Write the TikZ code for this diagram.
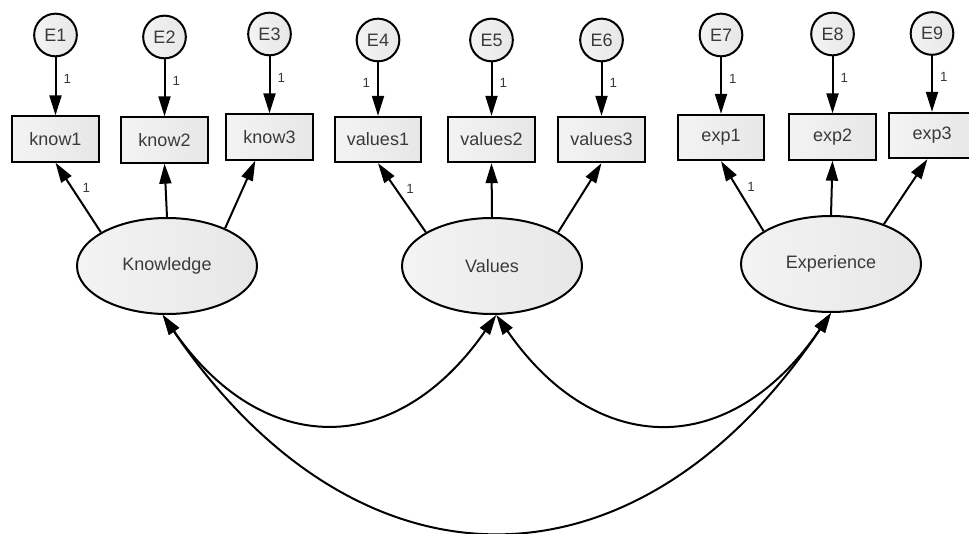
\documentclass[tikz,border=0pt]{standalone}
\usepackage{fontspec}
\setmainfont{Liberation Sans}
\usetikzlibrary{arrows.meta,shapes.geometric}

\definecolor{txtgray}{HTML}{3A3A3A}
\tikzset{every picture/.style={line width=1.5pt}}
\tikzset{
  latent/.style={draw, ellipse, inner sep=0pt, minimum width=135pt, minimum height=72pt,
    left color=gray!9, right color=gray!19, text=txtgray, font=\fontsize{13.5}{16}\selectfont},
  observed/.style={draw, rectangle, inner sep=0pt, minimum width=65pt, minimum height=34pt,
    left color=gray!9, right color=gray!19, text=txtgray, font=\fontsize{13.5}{16}\selectfont},
  errvar/.style={draw, circle, inner sep=0pt, minimum size=32pt,
    left color=gray!9, right color=gray!19, text=txtgray, font=\fontsize{13.5}{16}\selectfont},
  weight/.style={inner sep=0.75pt, text=txtgray, font=\fontsize{10}{12}\selectfont},
  path arrow/.style={-{Triangle[length=15pt,width=9pt]}},
  covar/.style={{Triangle[length=15pt,width=9pt]}-{Triangle[length=15pt,width=9pt]}}
}

\begin{document}
\begin{tikzpicture}[x=0.75pt,y=0.75pt,yscale=-1,xscale=1]
\useasboundingbox (0,0) rectangle (969,534);
%Latent Nodes
\node [latent] (know) at (167,266) {Knowledge};
\node [latent] (vals) at (492,266) {Values};
\node [latent] (expr) at (831,264) {Experience};
%Observed Nodes
\node [observed] (k1) at (55.5,139) {know1};
\node [observed] (k2) at (164.5,140) {know2};
\node [observed] (k3) at (269.5,137) {know3};
\node [observed] (v1) at (378,139.5) {values1};
\node [observed] (v2) at (491.5,139.5) {values2};
\node [observed] (v3) at (601.5,139.5) {values3};
\node [observed] (x1) at (721,137.5) {exp1};
\node [observed] (x2) at (832.5,137) {exp2};
\node [observed] (x3) at (932,135.5) {exp3};
%Error Nodes
\node [errvar] (e1) at (55.5,35) {E1};
\node [errvar] (e2) at (164.5,37) {E2};
\node [errvar] (e3) at (269.5,34) {E3};
\node [errvar] (e4) at (378,40) {E4};
\node [errvar] (e5) at (491.5,40) {E5};
\node [errvar] (e6) at (601.5,40) {E6};
\node [errvar] (e7) at (721,35) {E7};
\node [errvar] (e8) at (832.5,34) {E8};
\node [errvar] (e9) at (932,33.5) {E9};
%Straight Lines: errors
\draw [path arrow] (e1) -- (k1) node [pos=0.38, right=4.5pt, weight] {1};
\draw [path arrow] (e2) -- (k2) node [pos=0.38, right=4.5pt, weight] {1};
\draw [path arrow] (e3) -- (k3) node [pos=0.38, right=4.5pt, weight] {1};
\draw [path arrow] (e4) -- (v1) node [pos=0.38, left=4.5pt, weight] {1};
\draw [path arrow] (e5) -- (v2) node [pos=0.38, right=4.5pt, weight] {1};
\draw [path arrow] (e6) -- (v3) node [pos=0.38, right=4.5pt, weight] {1};
\draw [path arrow] (e7) -- (x1) node [pos=0.38, right=4.5pt, weight] {1};
\draw [path arrow] (e8) -- (x2) node [pos=0.38, right=4.5pt, weight] {1};
\draw [path arrow] (e9) -- (x3) node [pos=0.38, right=4.5pt, weight] {1};
%Straight Lines: loadings
\draw [path arrow] (know.153) -- (k1.south) node [pos=0.64, right=6.5pt, weight] {1};
\draw [path arrow] (know.north) -- (k2.south);
\draw [path arrow] (know.33) -- (k3.-121);
\draw [path arrow] (vals.153) -- (v1.south) node [pos=0.63, right=6.5pt, weight] {1};
\draw [path arrow] (vals.north) -- (v2.south);
\draw [path arrow] (vals.27) -- (v3.south);
\draw [path arrow] (expr.154) -- (x1.south) node [pos=0.63, right=6.5pt, weight] {1};
\draw [path arrow] (expr.north) -- (x2.south);
\draw [path arrow] (expr.37) -- (x3.-101);
%Curve Lines: covariances
\draw [covar] (know.265) .. controls +(100,144) and +(-100,144) .. (vals.275);
\draw [covar] (vals.275) .. controls +(100,144) and +(-100,147) .. (expr.south);
\draw [covar] (know.265) .. controls +(195,287) and +(-195,290) .. (expr.south);
\end{tikzpicture}
\end{document}
